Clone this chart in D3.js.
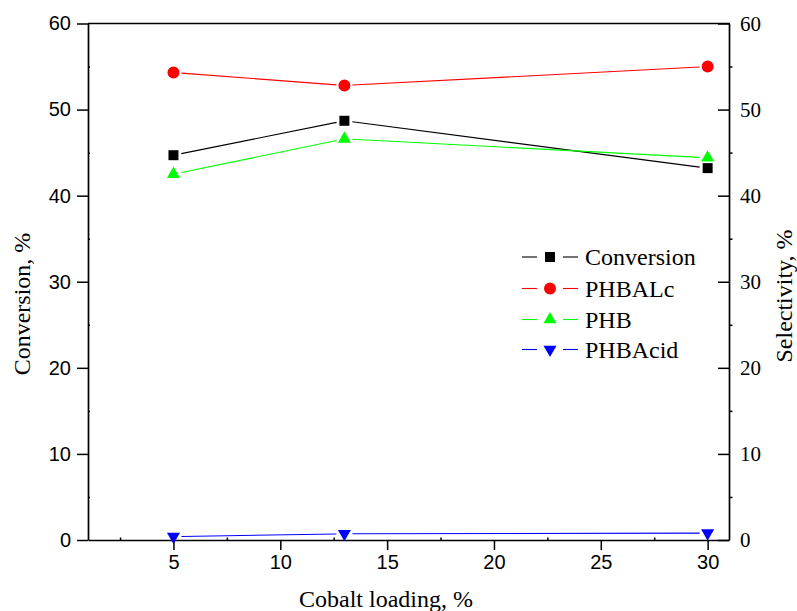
<!DOCTYPE html>
<html>
<head>
<meta charset="utf-8">
<script src="https://cdn.jsdelivr.net/npm/d3@7"></script>
<style>
  html, body { margin: 0; padding: 0; background: #fff; }
  svg { display: block; }
</style>
</head>
<body>
<svg id="chart" width="797" height="611"></svg>
<script>
// Cobalt loading (%) on the x axis
const loading = [5, 13, 30];
// Conversion (%) — left axis
const conversion = [44.7, 48.7, 43.2];
// Selectivities (%) — right axis
const phbalc = [54.3, 52.8, 55.0];
const phb = [42.5, 46.6, 44.4];
const phbacid = [0.4, 0.72, 0.8];

const xTicks = [5, 10, 15, 20, 25, 30];
const xMinor = [2.5, 7.5, 12.5, 17.5, 22.5, 27.5];
const yTicks = [0, 10, 20, 30, 40, 50, 60];
const yMinor = [5, 15, 25, 35, 45, 55];

const series = [
  { name: "Conversion", values: conversion, color: "#000000", symbol: "square" },
  { name: "PHBALc", values: phbalc, color: "#ff0000", symbol: "circle" },
  { name: "PHB", values: phb, color: "#00ff00", symbol: "up" },
  { name: "PHBAcid", values: phbacid, color: "#0000ff", symbol: "down" }
];

const svg = d3.select("#chart");
const L = 88, R = 729, T = 23.5, B = 540;

const x = d3.scaleLinear().domain([1, 31]).range([L, R]);
const yL = d3.scaleLinear().domain([0, 60]).range([B, T]);
const yR = d3.scaleLinear().domain([0, 60]).range([B, T]);

const sans = "'Liberation Sans', Arial, sans-serif";
const serif = "'Liberation Serif', 'Times New Roman', serif";

function symbolPath(kind) {
  if (kind === "square") return d3.symbol(d3.symbolSquare, 100)();
  if (kind === "circle") return d3.symbol(d3.symbolCircle, 113)();
  return d3.symbol(d3.symbolTriangle, 74)();
}

// Lines between markers, trimmed so they stop short of each symbol
const gap = 8;
series.forEach((s, si) => {
  const yScale = si === 0 ? yL : yR;
  const pts = loading.map((v, i) => [x(v), yScale(s.values[i])]);
  for (let i = 0; i < pts.length - 1; i++) {
    const [x0, y0] = pts[i], [x1, y1] = pts[i + 1];
    const d = Math.hypot(x1 - x0, y1 - y0);
    const ux = (x1 - x0) / d, uy = (y1 - y0) / d;
    svg.append("line")
      .attr("x1", x0 + ux * gap).attr("y1", y0 + uy * gap)
      .attr("x2", x1 - ux * gap).attr("y2", y1 - uy * gap)
      .attr("stroke", s.color).attr("stroke-width", 1.1);
  }
});

// Axes
const ax = svg.append("g").attr("class", "axes");

// bottom axis: major ticks outward, minor inward
const bottom = ax.append("g").attr("transform", `translate(0,${B})`)
  .call(d3.axisBottom(x).tickValues(xTicks).tickSize(10).tickPadding(5).tickSizeOuter(0));
bottom.selectAll("text").attr("font-family", sans).attr("font-size", 20).attr("fill", "#000");
ax.append("g").attr("transform", `translate(0,${B})`)
  .call(d3.axisTop(x).tickValues(xMinor).tickSize(2.5).tickFormat("").tickSizeOuter(0))
  .select(".domain").remove();

// left axis: major outward, minor inward
const left = ax.append("g").attr("transform", `translate(${L},0)`)
  .call(d3.axisLeft(yL).tickValues(yTicks).tickSize(11).tickPadding(6).tickSizeOuter(0));
left.selectAll("text").attr("font-family", sans).attr("font-size", 20).attr("fill", "#000");
ax.append("g").attr("transform", `translate(${L},0)`)
  .call(d3.axisRight(yL).tickValues(yMinor).tickSize(2).tickFormat("").tickSizeOuter(0))
  .select(".domain").remove();

// right axis: major inward, minor outward, serif labels
const right = ax.append("g").attr("transform", `translate(${R},0)`)
  .call(d3.axisLeft(yR).tickValues(yTicks).tickSize(11).tickFormat("").tickSizeOuter(0));
const rightMinor = ax.append("g").attr("transform", `translate(${R},0)`)
  .call(d3.axisRight(yR).tickValues(yMinor).tickSize(3.5).tickFormat("").tickSizeOuter(0));
rightMinor.select(".domain").remove();
ax.append("g").selectAll("text").data(yTicks).join("text")
  .attr("x", R + 11).attr("y", d => yR(d)).attr("dy", "0.34em")
  .attr("font-family", serif).attr("font-size", 21).text(d => d);

// top border
ax.append("line").attr("x1", L).attr("x2", R + 1).attr("y1", T).attr("y2", T);

ax.selectAll("path.domain, line").attr("stroke", "#000").attr("stroke-width", 1.7);
ax.selectAll(".tick line").attr("stroke-width", 1.5);

// Markers
series.forEach((s, si) => {
  const yScale = si === 0 ? yL : yR;
  svg.append("g").selectAll("path").data(s.values).join("path")
    .attr("d", symbolPath(s.symbol))
    .attr("transform", (v, i) => `translate(${x(loading[i])},${yScale(v)})${s.symbol === "down" ? " rotate(180)" : ""}`)
    .attr("fill", s.color);
});

// Axis titles
svg.append("text").attr("transform", "translate(30,304) rotate(-90)")
  .attr("text-anchor", "middle").attr("font-family", serif).attr("font-size", 24)
  .text("Conversion, %");
svg.append("text").attr("transform", "translate(792,296) rotate(-90)")
  .attr("text-anchor", "middle").attr("font-family", serif).attr("font-size", 24)
  .text("Selectivity, %");
svg.append("text").attr("x", 386).attr("y", 607)
  .attr("text-anchor", "middle").attr("font-family", serif).attr("font-size", 24)
  .text("Cobalt loading, %");

// Legend
const legend = svg.append("g");
const rowY = [257, 288.5, 319.5, 349.5];
series.forEach((s, i) => {
  const g = legend.append("g").attr("transform", `translate(0,${rowY[i]})`);
  g.append("line").attr("x1", 522).attr("x2", 537).attr("stroke", s.color).attr("stroke-width", 1.1);
  g.append("line").attr("x1", 563).attr("x2", 578).attr("stroke", s.color).attr("stroke-width", 1.1);
  g.append("path").attr("d", symbolPath(s.symbol))
    .attr("transform", `translate(550,0)${s.symbol === "down" ? " rotate(180)" : ""}`)
    .attr("fill", s.color);
  g.append("text").attr("x", 585).attr("y", 8)
    .attr("font-family", serif).attr("font-size", 24).text(s.name);
});
</script>
</body>
</html>
